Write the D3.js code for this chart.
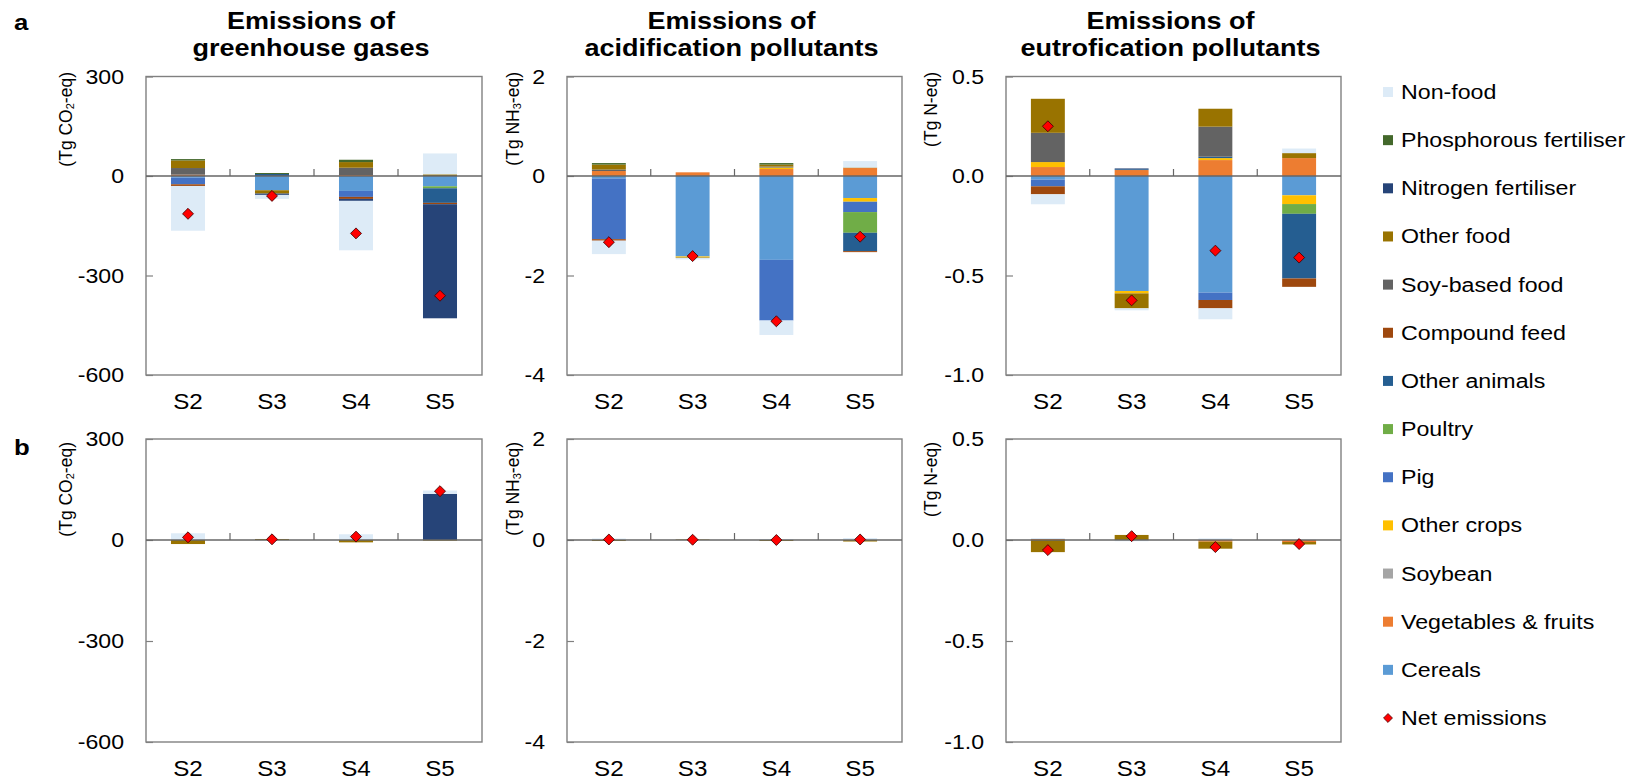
<!DOCTYPE html>
<html>
<head>
<meta charset="utf-8">
<script src="https://cdn.jsdelivr.net/npm/d3@7"></script>
<style>
  body { margin: 0; background: #fff; }
  svg text { font-family: "Liberation Sans", Arial, sans-serif; fill: #000; }
</style>
</head>
<body>
<svg id="chart" width="1635" height="780"></svg>
<script>
// scenarios and stacked series (stack order = Excel series order, legend is reversed)
const scenarios = ["S2", "S3", "S4", "S5"];
const seriesNames = ["Cereals", "Vegetables & fruits", "Soybean", "Other crops", "Pig", "Poultry",
  "Other animals", "Compound feed", "Soy-based food", "Other food", "Nitrogen fertiliser",
  "Phosphorous fertiliser", "Non-food"];
const seriesColors = ["#5B9BD5", "#ED7D31", "#A5A5A5", "#FFC000", "#4472C4", "#70AD47",
  "#255E91", "#9E480E", "#636363", "#997300", "#264478", "#43682B", "#DDEBF7"];

// each row follows seriesNames, columns are S2..S5
const ghgTop = [
  [-5, -43, -45, -31],
  [4, 0, 3, 0],
  [0, 0, 0, 0],
  [0, 0, 0, 0],
  [-20, 0, -18, 0],
  [0, 0, 0, -6],
  [0, 6, 0, -44],
  [-5, 0, -6, -4],
  [20, 0, 22, 0],
  [23, -10, 17, 5],
  [0, -4, -6, -344],
  [4, 3, 7, 0],
  [-135, -12, -149, 63]
];
const netGhgTop = [-114, -60, -173, -361];

const acidTop = [
  [-0.05, -1.617, -1.685, -0.443],
  [0.10, 0.074, 0.14, 0.16],
  [0, 0, 0, 0],
  [0, -0.02, 0.03, -0.074],
  [-1.22, 0, -1.22, -0.208],
  [0, 0, 0, -0.416],
  [0, 0, 0, -0.369],
  [-0.03, 0, 0, -0.02],
  [0.03, 0, 0.02, 0],
  [0.10, -0.01, 0.04, 0.01],
  [0, 0, 0, 0],
  [0.03, 0, 0.03, 0],
  [-0.27, -0.03, -0.29, 0.13]
];
const netAcidTop = [-1.33, -1.61, -2.92, -1.22];

const eutroTop = [
  [-0.018, -0.578, -0.586, -0.097],
  [0.045, 0.03, 0.08, 0.09],
  [0, 0, 0, 0],
  [0.025, -0.012, 0.01, -0.044],
  [-0.034, 0, -0.037, 0],
  [0, 0, 0, -0.049],
  [0, 0.004, 0.007, -0.325],
  [-0.04, 0, -0.042, -0.042],
  [0.147, 0, 0.151, 0],
  [0.171, -0.075, 0.09, 0.025],
  [0, 0.004, 0, 0],
  [0, 0, 0, 0],
  [-0.05, -0.01, -0.055, 0.023]
];
const netEutroTop = [0.25, -0.625, -0.375, -0.41];

const ghgBottom = [
  [0, 0, 0, 0],
  [0, 0, 0, 0],
  [0, 0, 0, 0],
  [0, 0, 0, 0],
  [0, 0, 0, 0],
  [0, 0, 0, 0],
  [0, 0, 0, 0],
  [0, 0, 0, 0],
  [0, 0, 0, 0],
  [-12, 3, -7, -2],
  [0, 0, 0, 137],
  [0, 0, 0, 0],
  [20, -1, 17, 10]
];
const netGhgBottom = [8, 2, 10, 145];

const acidBottom = [
  [0, 0, 0, 0],
  [0, 0, 0, 0],
  [0, 0, 0, 0],
  [0, 0, 0, 0],
  [0, 0, 0, 0],
  [0, 0, 0, 0],
  [0, 0, 0, 0],
  [0, 0, 0, 0],
  [0, 0, 0, 0],
  [-0.02, 0.01, -0.02, -0.03],
  [0, 0, 0, 0],
  [0, 0, 0, 0],
  [0.03, 0, 0.02, 0.04]
];
const netAcidBottom = [0.01, 0.005, 0, 0.01];

const eutroBottom = [
  [0, 0, 0, 0],
  [0.005, 0, -0.008, -0.01],
  [0, 0, 0, 0],
  [0, 0, 0, 0],
  [0, 0, 0, 0],
  [0, 0, 0, 0],
  [0, 0, 0, 0],
  [0, 0, 0, 0],
  [0, 0, 0, 0],
  [-0.06, 0.025, -0.035, -0.012],
  [0, 0, 0, 0],
  [0, 0, 0, 0],
  [0.005, -0.006, 0.008, 0.002]
];
const netEutroBottom = [-0.05, 0.019, -0.035, -0.02];

// axes
const ghgTicks = [300, 0, -300, -600];
const ghgTickLabels = ["300", "0", "-300", "-600"];
const acidTicks = [2, 0, -2, -4];
const acidTickLabels = ["2", "0", "-2", "-4"];
const eutroTicks = [0.5, 0, -0.5, -1];
const eutroTickLabels = ["0.5", "0.0", "-0.5", "-1.0"];

const titles = [["Emissions of", "greenhouse gases"], ["Emissions of", "acidification pollutants"],
  ["Emissions of", "eutrofication pollutants"]];
const units = [["(Tg CO", "2", "-eq)"], ["(Tg NH", "3", "-eq)"], ["(Tg N-eq)"]];

// layout
const colX = [[146, 482], [567, 902], [1006, 1341]];
const rowY = [[76.5, 375], [439, 742]];
const unitX = [66, 513, 931];
const unitTop = [72, 442];
const stretch = 1.12; // glyphs in the original are drawn a bit wide

const svg = d3.select("#chart");

function label(g, x, y, txt, size, anchor, weight, sx) {
  return g.append("text")
    .attr("transform", `translate(${x},${y}) scale(${sx || stretch},1)`)
    .attr("text-anchor", anchor || "middle")
    .attr("font-size", size)
    .attr("font-weight", weight || "normal")
    .text(txt);
}

const panels = [
  { row: 0, col: 0, values: ghgTop, net: netGhgTop, domain: [-600, 300], ticks: ghgTicks, tickLabels: ghgTickLabels },
  { row: 0, col: 1, values: acidTop, net: netAcidTop, domain: [-4, 2], ticks: acidTicks, tickLabels: acidTickLabels },
  { row: 0, col: 2, values: eutroTop, net: netEutroTop, domain: [-1, 0.5], ticks: eutroTicks, tickLabels: eutroTickLabels },
  { row: 1, col: 0, values: ghgBottom, net: netGhgBottom, domain: [-600, 300], ticks: ghgTicks, tickLabels: ghgTickLabels },
  { row: 1, col: 1, values: acidBottom, net: netAcidBottom, domain: [-4, 2], ticks: acidTicks, tickLabels: acidTickLabels },
  { row: 1, col: 2, values: eutroBottom, net: netEutroBottom, domain: [-1, 0.5], ticks: eutroTicks, tickLabels: eutroTickLabels }
];

panels.forEach((p) => {
  let [x0, x1] = colX[p.col];
  let [y0, y1] = rowY[p.row];
  let g = svg.append("g");

  let x = d3.scaleBand().domain(scenarios).range([x0, x1]).paddingInner(0.595).paddingOuter(0.2975);
  let y = d3.scaleLinear().domain(p.domain).range([y1, y0]);

  let rows = scenarios.map((s, j) => {
    let r = { scen: s };
    seriesNames.forEach((n, i) => (r[n] = p.values[i][j]));
    return r;
  });
  let stacked = d3.stack().keys(seriesNames).offset(d3.stackOffsetDiverging)(rows);

  g.append("g")
    .selectAll("g")
    .data(stacked)
    .join("g")
    .attr("fill", (d, i) => seriesColors[i])
    .selectAll("rect")
    .data((d) => d)
    .join("rect")
    .attr("x", (d) => x(d.data.scen))
    .attr("width", x.bandwidth())
    .attr("y", (d) => y(Math.max(d[0], d[1])))
    .attr("height", (d) => Math.abs(y(d[0]) - y(d[1])));

  // plot frame
  g.append("rect")
    .attr("x", x0).attr("y", y0)
    .attr("width", x1 - x0).attr("height", y1 - y0)
    .attr("fill", "none").attr("stroke", "#808080").attr("stroke-width", 1.4);

  // y axis, ticks pointing inward
  let yAxis = d3.axisLeft(y)
    .tickValues(p.ticks)
    .tickFormat((d, i) => p.tickLabels[i])
    .tickSize(-7)
    .tickPadding(22);
  let ag = g.append("g").attr("transform", `translate(${x0},0)`).call(yAxis);
  ag.select(".domain").remove();
  ag.attr("font-size", 21);
  ag.selectAll("line").attr("stroke", "#808080").attr("stroke-width", 1.2);
  ag.selectAll("text")
    .attr("fill", "#000")
    .attr("transform", function () {
      return `translate(${this.getAttribute("x")},0) scale(1.1,1)`;
    })
    .attr("x", 0);

  // x labels
  let xg = g.append("g").attr("transform", `translate(0,${y1})`)
    .call(d3.axisBottom(x).tickSize(0).tickPadding(18));
  xg.select(".domain").remove();
  xg.attr("font-size", 22);
  xg.selectAll("text")
    .attr("fill", "#000")
    .attr("transform", "scale(1.1,1)")
    .attr("x", function () { return 0; });
  xg.selectAll(".tick text").attr("transform", "scale(1.1,1)");

  // zero line and category separators
  let zy = y(0);
  g.append("line")
    .attr("x1", x0).attr("x2", x1).attr("y1", zy).attr("y2", zy)
    .attr("stroke", "#666").attr("stroke-width", 1.4);
  let gap = (x.step() * x.paddingInner()) / 2;
  g.selectAll("line.sep")
    .data(scenarios.slice(1))
    .join("line")
    .attr("class", "sep")
    .attr("x1", (s) => x(s) - gap).attr("x2", (s) => x(s) - gap)
    .attr("y1", zy).attr("y2", zy - 7)
    .attr("stroke", "#666").attr("stroke-width", 1.2);

  // net emissions
  g.selectAll("path.net")
    .data(p.net)
    .join("path")
    .attr("class", "net")
    .attr("d", d3.symbol(d3.symbolSquare, 60))
    .attr("transform", (d, j) => `translate(${x(scenarios[j]) + x.bandwidth() / 2},${y(d)}) rotate(45)`)
    .attr("fill", "#FF0000")
    .attr("stroke", "#400000")
    .attr("stroke-width", 0.8);

  // unit label
  let ut = g.append("text")
    .attr("transform", `translate(${unitX[p.col]},${unitTop[p.row]}) rotate(-90)`)
    .attr("text-anchor", "end")
    .attr("dominant-baseline", "central")
    .attr("font-size", 17.5);
  let parts = units[p.col];
  ut.append("tspan").text(parts[0]);
  if (parts.length > 1) {
    ut.append("tspan").attr("font-size", 11).attr("dy", 4).text(parts[1]);
    ut.append("tspan").attr("dy", -4).text(parts[2]);
  }

  if (p.row === 0) {
    let cx = (x0 + x1) / 2 - 3;
    label(svg, cx, 29, titles[p.col][0], 23.5, "middle", "bold", 1.15);
    label(svg, cx, 56, titles[p.col][1], 23.5, "middle", "bold", 1.15);
  }
});

// panel letters
label(svg, 14, 30, "a", 23, "start", "bold");
label(svg, 14, 455, "b", 23, "start", "bold");

// legend
let legendItems = seriesNames.map((n, i) => ({ name: n, color: seriesColors[i] })).reverse();
legendItems.push({ name: "Net emissions", net: true });
let ly = d3.scalePoint().domain(legendItems.map((d) => d.name)).range([92, 718]);
let lg = svg.append("g");
legendItems.forEach((d) => {
  let cy = ly(d.name);
  if (d.net) {
    lg.append("path")
      .attr("d", d3.symbol(d3.symbolSquare, 40))
      .attr("transform", `translate(1388,${cy}) rotate(45)`)
      .attr("fill", "#FF0000").attr("stroke", "#400000").attr("stroke-width", 0.7);
  } else {
    lg.append("rect")
      .attr("x", 1383).attr("y", cy - 5)
      .attr("width", 10).attr("height", 10)
      .attr("fill", d.color);
  }
  label(lg, 1401, cy + 7, d.name, 20, "start", "normal", 1.16);
});
</script>
</body>
</html>
